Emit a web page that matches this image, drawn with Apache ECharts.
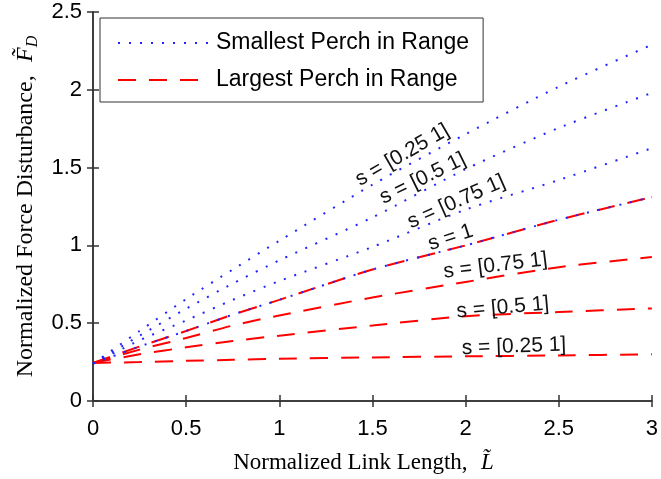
<!DOCTYPE html>
<html>
<head>
<meta charset="utf-8">
<script src="https://cdn.jsdelivr.net/npm/echarts@6/dist/echarts.min.js"></script>
<style>html,body{margin:0;padding:0;background:#fff}#c{width:661px;height:479px}</style>
</head>
<body>
<div id="c"></div>
<script>
// Normalized link length (x)
const linkLength = [0, 0.25, 0.5, 0.75, 1, 1.5, 2, 2.5, 3];
// Smallest perch in range (blue dotted)
const smallest_s025 = [0.24, 0.45, 0.655, 0.845, 1.03, 1.39, 1.715, 2.02, 2.29];
const smallest_s05  = [0.24, 0.42, 0.593, 0.755, 0.904, 1.18, 1.49, 1.755, 1.98];
const smallest_s075 = [0.24, 0.39, 0.518, 0.65, 0.771, 0.99, 1.23, 1.42, 1.625];
const smallest_s1   = [0.24, 0.35, 0.45, 0.555, 0.65, 0.845, 1.0, 1.165, 1.31];
// Largest perch in range (red dashed)
const largest_s1    = [0.245, 0.35, 0.45, 0.555, 0.65, 0.845, 1.0, 1.165, 1.31];
const largest_s075  = [0.245, 0.33, 0.405, 0.485, 0.55, 0.665, 0.765, 0.86, 0.925];
const largest_s05   = [0.245, 0.30, 0.345, 0.385, 0.42, 0.485, 0.545, 0.572, 0.595];
const largest_s025  = [0.245, 0.25, 0.258, 0.265, 0.272, 0.28, 0.287, 0.293, 0.30];
// Tick values
const xTicks = [0, 0.5, 1, 1.5, 2, 2.5, 3];
const yTicks = [0, 0.5, 1, 1.5, 2, 2.5];
// Annotation texts and anchors (data coords)
const annoText = ['s = [0.25 1]', 's = [0.5 1]', 's = [0.75 1]', 's = 1', 's = [0.75 1]', 's = [0.5 1]', 's = [0.25 1]'];
const annoL = [1.66, 1.77, 1.95, 1.92, 2.16, 2.20, 2.26];
const annoF = [1.58, 1.43, 1.28, 1.05, 0.87, 0.60, 0.35];
const annoRot = [30, 26, 24, 18, 7, 5, 2];

const SMALL = 'Smallest Perch in Range';
const LARGE = 'Largest Perch in Range';
const pairs = arr => linkLength.map((x, i) => [x, arr[i]]);

const blueStyle = {color: '#2424ff', width: 2, type: [2, 9], cap: 'butt'};
const redStyle = {color: '#ff0000', width: 2, type: [18, 13]};

function blue(arr) {
  return {name: SMALL, type: 'line', data: pairs(arr), symbol: 'none', smooth: 0.25,
    lineStyle: blueStyle, itemStyle: {color: '#2424ff'}, z: 3, animation: false};
}
function red(arr) {
  return {name: LARGE, type: 'line', data: pairs(arr), symbol: 'none', smooth: 0.25,
    lineStyle: redStyle, itemStyle: {color: '#ff0000'}, z: 2, animation: false};
}

const axisLine = {show: true, lineStyle: {color: '#333', width: 1.5}};
const axisTick = {show: true, inside: true, length: 6, lineStyle: {color: '#333', width: 1.5}};

const chart = echarts.init(document.getElementById('c'), null, {renderer: 'canvas'});
chart.setOption({
  animation: false,
  backgroundColor: '#fff',
  grid: {left: 93, right: 6, top: 12, bottom: 78, containLabel: false},
  legend: {
    data: [SMALL, LARGE],
    orient: 'vertical', left: 100, top: 18,
    itemWidth: 90, itemHeight: 14, itemGap: 11,
    padding: [12, 14, 9, 17],
    backgroundColor: '#fff', borderColor: '#333', borderWidth: 1,
    itemStyle: {opacity: 0},
    textStyle: {fontFamily: 'Liberation Sans', fontSize: 23, color: '#000', lineHeight: 26, padding: [0, 0, 0, 3]}
  },
  xAxis: [{
    type: 'value', min: 0, max: 3, interval: 0.5, position: 'bottom',
    axisLine, axisTick, splitLine: {show: false},
    axisLabel: {fontFamily: 'Liberation Sans', fontSize: 22, color: '#000', margin: 17,
      formatter: v => xTicks.includes(v) ? String(v) : ''},
    name: '{a|Normalized Link Length,}    {b|L\u0303}', nameLocation: 'middle', nameGap: 50,
    nameTextStyle: {padding: [0, 18, 0, 0], rich: {
      a: {fontFamily: 'Liberation Serif', fontSize: 23, color: '#000'},
      b: {fontFamily: 'Liberation Serif', fontStyle: 'italic', fontSize: 23, color: '#000'}
    }}
  }, {
    type: 'value', min: 0, max: 3, interval: 0.5, position: 'top',
    axisLine, axisTick, axisLabel: {show: false}, splitLine: {show: false}
  }],
  yAxis: [{
    type: 'value', min: 0, max: 2.5, interval: 0.5, position: 'left',
    axisLine, axisTick, splitLine: {show: false},
    axisLabel: {fontFamily: 'Liberation Sans', fontSize: 22, color: '#000', margin: 11,
      formatter: v => yTicks.includes(v) ? String(v) : ''},
    name: '{a|Normalized Force Disturbance,}    {b|F\u0303}{s|D}', nameLocation: 'middle', nameGap: 50,
    nameTextStyle: {rich: {
      a: {fontFamily: 'Liberation Serif', fontSize: 24, color: '#000', lineHeight: 30},
      b: {fontFamily: 'Liberation Serif', fontStyle: 'italic', fontSize: 24, color: '#000', lineHeight: 30},
      s: {fontFamily: 'Liberation Serif', fontStyle: 'italic', fontSize: 16, color: '#000', lineHeight: 30, verticalAlign: 'bottom'}
    }}
  }, {
    type: 'value', min: 0, max: 2.5, interval: 0.5, position: 'right',
    axisLine, axisTick, axisLabel: {show: false}, splitLine: {show: false}
  }],
  series: [
    red(largest_s025), red(largest_s05), red(largest_s075), red(largest_s1),
    blue(smallest_s025), blue(smallest_s05), blue(smallest_s075), blue(smallest_s1)
  ]
});

const texts = annoText.map((t, i) => {
  const p = chart.convertToPixel({gridIndex: 0}, [annoL[i], annoF[i]]);
  return {
    type: 'text', x: p[0], y: p[1], rotation: annoRot[i] * Math.PI / 180, z: 10,
    style: {text: t, fontFamily: 'Liberation Sans', fontSize: 21, fill: '#111',
      align: 'center', verticalAlign: 'middle'}
  };
});
chart.setOption({graphic: texts});
</script>
</body>
</html>
